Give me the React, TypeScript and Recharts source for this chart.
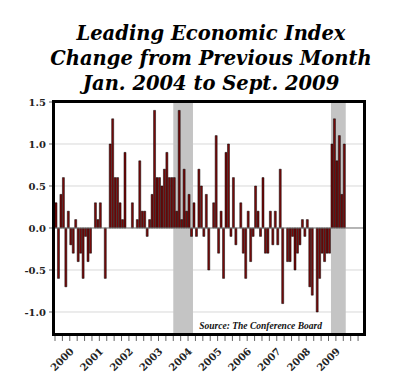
import React from 'react';
import { BarChart, Bar, XAxis, YAxis, CartesianGrid, ReferenceArea, ReferenceLine } from 'recharts';

// monthly change in the leading index, Jan 2000 onward
const changes = [
    0.3, -0.6, 0.4, 0.6, -0.7, 0.2, -0.2, -0.3, 0.1, -0.4, -0.3, -0.6,
    -0.1, -0.4, -0.3, 0, 0.3, 0.1, 0.3, 0, -0.6, 0, 1.0, 1.3,
    0.6, 0.6, 0.3, 0.1, 0.9, 0, 0, 0.3, 0, 0.1, 0.8, 0.2,
    0.2, -0.1, 0.1, 0.4, 1.4, 0.6, 0.6, 0.5, 0.7, 0.9, 0.6, 0.6,
    0.6, 0.2, 1.4, 0.1, 0.7, 0.2, 0.4, -0.1, 0.3, -0.1, 0.7, 0.5,
    -0.1, 0.4, -0.5, 0, 0.3, 1.1, -0.3, 0.2, -0.6, 0.9, 1.0, -0.1,
    0.6, -0.2, 0, 0.3, -0.3, -0.6, 0.2, -0.4, -0.1, 0.5, 0.2, -0.1,
    0.6, -0.3, -0.3, 0.2, -0.2, 0.2, -0.2, 0.7, -0.9, 0, -0.4, -0.4,
    -0.1, -0.5, -0.3, -0.2, 0.1, -0.1, 0.1, -0.7, -0.8, 0, -1.0, -0.6,
    -0.3, -0.4, -0.3, -0.3, 1.0, 1.3, 0.8, 1.1, 0.4, 1.0,
];

const years = ['2000', '2001', '2002', '2003', '2004', '2005', '2006', '2007', '2008', '2009', '2010'];
const yTicks = [-1.0, -0.5, 0, 0.5, 1.0, 1.5];

// shaded periods [from, to]
const shadeFrom = ['2004-01', '2009-05'];
const shadeTo = ['2004-08', '2009-10'];

const SLOTS = 125;
const months: string[] = [];
years.forEach(y => {
    for (let m = 1; m <= 12; m++) months.push(`${y}-${String(m).padStart(2, '0')}`);
});
const chartData = months.slice(0, SLOTS).map((month, i) => ({
    month,
    change: i < changes.length ? changes[i] : null,
}));

const serif = '"DejaVu Serif", serif';

const MonthTick = (props: any) => {
    const { x, y, payload } = props;
    const i = payload.index;
    const left = x - (payload.offset ?? 0);
    return (
        <g>
            {i % 3 === 0 && <line x1={left} x2={left} y1={y + 2} y2={y + 7} stroke="#666" strokeWidth={1} />}
            {i % 12 === 7 && (
                <text
                    x={x + 1}
                    y={y + 18}
                    textAnchor="end"
                    transform={`rotate(-45, ${x + 1}, ${y + 18})`}
                    fontFamily={serif}
                    fontWeight="bold"
                    fontSize={10}
                    fill="#222"
                >
                    {payload.value.slice(0, 4)}
                </text>
            )}
        </g>
    );
};

export default function App() {
    return (
        <div style={{ position: 'absolute', left: 0, top: 0, width: 400, height: 392, background: '#fff' }}>
            <div
                style={{
                    position: 'absolute', left: 11, top: 21, width: 400, textAlign: 'center',
                    fontFamily: serif, fontStyle: 'italic', fontWeight: 'bold', fontSize: 19.5,
                    lineHeight: '25px', color: '#000',
                }}
            >
                Leading Economic Index<br />
                Change from Previous Month<br />
                Jan. 2004 to Sept. 2009
            </div>
            <BarChart
                width={400}
                height={392}
                data={chartData}
                margin={{ top: 102, right: 37, bottom: 0, left: 0 }}
                barCategoryGap={0}
                barGap={0}
            >
                <CartesianGrid vertical={false} stroke="#d8d8d8" />
                {shadeFrom.map((from, i) => (
                    <ReferenceArea key={from} x1={from} x2={shadeTo[i]} fill="#c4c4c4" fillOpacity={1} stroke="none" />
                ))}
                <XAxis
                    dataKey="month"
                    interval={0}
                    height={58}
                    tickSize={0}
                    tickMargin={0}
                    axisLine={false}
                    tickLine={false}
                    tick={<MonthTick />}
                />
                <YAxis
                    width={55}
                    domain={[-1.262, 1.5]}
                    ticks={yTicks}
                    allowDataOverflow
                    tickFormatter={(v: number) => v.toFixed(1)}
                    axisLine={false}
                    tickSize={6}
                    tickMargin={3}
                    tickLine={{ stroke: '#666' }}
                    tick={{ fontFamily: serif, fontWeight: 'bold', fontSize: 10, fill: '#222' }}
                />
                <ReferenceLine y={0} stroke="#808080" />
                <Bar dataKey="change" fill="#7a0a0a" stroke="#000" strokeWidth={0.5} isAnimationActive={false} />
            </BarChart>
            <div
                style={{
                    position: 'absolute', right: 78, top: 321, fontFamily: '"Liberation Serif", serif',
                    fontStyle: 'italic', fontWeight: 'bold', fontSize: 9.5, color: '#111', whiteSpace: 'nowrap',
                }}
            >
                Source: The Conference Board
            </div>
            <div
                style={{
                    position: 'absolute', left: 52, top: 100, width: 314, height: 236,
                    boxSizing: 'border-box', border: '3px solid #000', pointerEvents: 'none',
                }}
            />
        </div>
    );
}
